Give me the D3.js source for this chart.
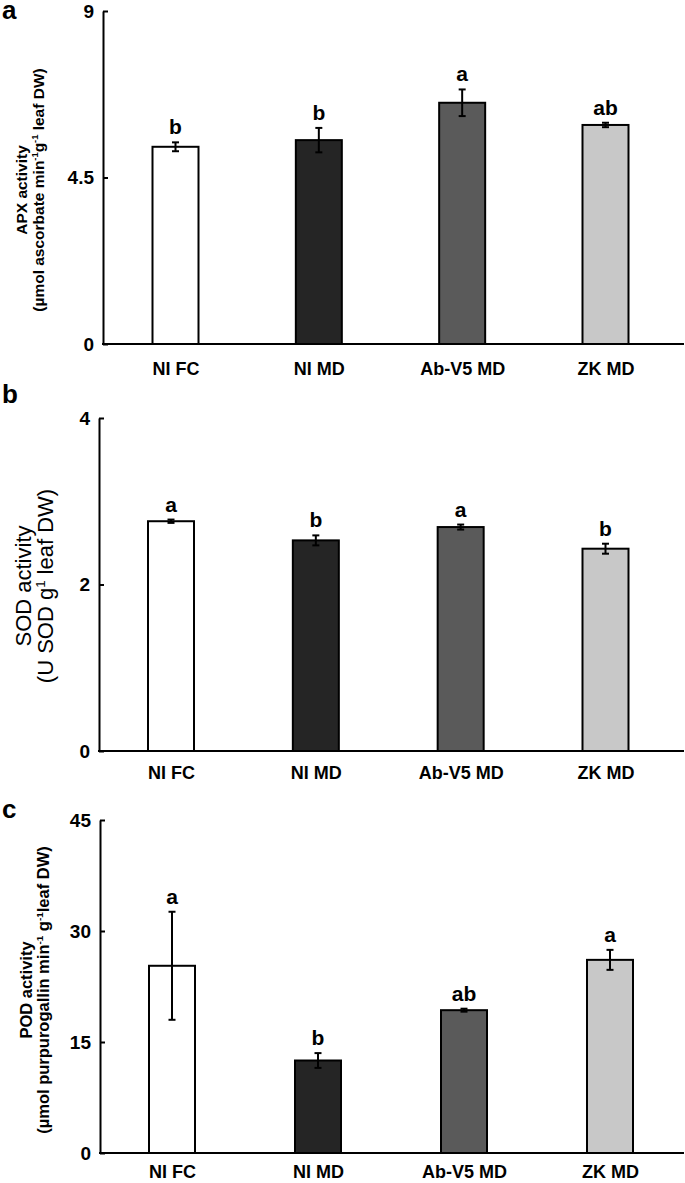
<!DOCTYPE html>
<html>
<head>
<meta charset="utf-8">
<script src="https://cdn.jsdelivr.net/npm/d3@7"></script>
<style>
  body { margin: 0; background: #fff; }
  svg { display: block; font-family: "Liberation Sans", Arial, sans-serif; }
</style>
</head>
<body>
<div id="chart"></div>
<script>
// categories shared by all three panels
const categories = ["NI FC", "NI MD", "Ab-V5 MD", "ZK MD"];
const barColors = ["#ffffff", "#252525", "#5a5a5a", "#c8c8c8"];

// a: APX
const apxMean = [5.33, 5.51, 6.52, 5.92];
const apxErr = [0.12, 0.33, 0.36, 0.06];
const apxLetters = ["b", "b", "a", "ab"];
const apxTicks = [0, 4.5, 9];

// b: SOD
const sodMean = [2.76, 2.53, 2.69, 2.43];
const sodErr = [0.02, 0.06, 0.03, 0.06];
const sodLetters = ["a", "b", "a", "b"];
const sodTicks = [0, 2, 4];

// c: POD
const podMean = [25.3, 12.5, 19.3, 26.1];
const podErr = [7.3, 1.0, 0.2, 1.35];
const podLetters = ["a", "b", "ab", "a"];
const podTicks = [0, 15, 30, 45];

const width = 685;
const height = 1183;

const svg = d3
  .select("#chart")
  .append("svg")
  .attr("width", width)
  .attr("height", height);

// panel layouts (pixels)
const panels = [
  {
    tag: "a", mean: apxMean, err: apxErr, letters: apxLetters, ticks: apxTicks,
    axisX: 103, top: 11, bottom: 344, first: 175.5, last: 605.5, tagY: 19, catPad: 18,
    bold: true, labelSize: 15.5, labelY: 190, line1X: 27, line2X: 44,
    line1: [["APX activity"]],
    line2: [["(µmol ascorbate min"], ["-1", true], ["g"], ["-1", true], [" leaf DW)"]],
  },
  {
    tag: "b", mean: sodMean, err: sodErr, letters: sodLetters, ticks: sodTicks,
    axisX: 99, top: 418, bottom: 751, first: 171, last: 605.5, tagY: 403, catPad: 15,
    bold: false, labelSize: 22, labelY: 586, line1X: 31, line2X: 53,
    line1: [["SOD activity"]],
    line2: [["(U SOD g"], ["1", true], [" leaf DW)"]],
  },
  {
    tag: "c", mean: podMean, err: podErr, letters: podLetters, ticks: podTicks,
    axisX: 100, top: 820, bottom: 1153, first: 172, last: 610, tagY: 818, catPad: 12,
    bold: true, labelSize: 16.5, labelY: 990, line1X: 32, line2X: 49,
    line1: [["POD activity"]],
    line2: [["(µmol purpurogallin min"], ["-1", true], [" g"], ["-1", true], ["leaf DW)"]],
  },
];

panels.forEach((p) => {
  const g = svg.append("g");

  const y = d3.scaleLinear().domain([0, d3.max(p.ticks)]).range([p.bottom, p.top]);
  const x = d3.scalePoint().domain(categories).range([p.first, p.last]);
  const barW = 46;

  const data = categories.map((c, i) => ({
    cat: c, mean: p.mean[i], err: p.err[i], letter: p.letters[i], color: barColors[i],
  }));

  // panel tag
  g.append("text")
    .attr("x", 2)
    .attr("y", p.tagY)
    .attr("font-size", 26)
    .attr("font-weight", "bold")
    .text(p.tag);

  // bars
  g.selectAll("rect.bar")
    .data(data)
    .join("rect")
    .attr("class", "bar")
    .attr("x", (d) => x(d.cat) - barW / 2)
    .attr("y", (d) => y(d.mean))
    .attr("width", barW)
    .attr("height", (d) => y(0) - y(d.mean))
    .attr("fill", (d) => d.color)
    .attr("stroke", "#000")
    .attr("stroke-width", 2);

  // error bars
  const eb = g.selectAll("g.err").data(data).join("g").attr("class", "err");
  eb.append("line")
    .attr("x1", (d) => x(d.cat))
    .attr("x2", (d) => x(d.cat))
    .attr("y1", (d) => y(d.mean - d.err))
    .attr("y2", (d) => y(d.mean + d.err));
  eb.append("line")
    .attr("x1", (d) => x(d.cat) - 3.5)
    .attr("x2", (d) => x(d.cat) + 3.5)
    .attr("y1", (d) => y(d.mean + d.err))
    .attr("y2", (d) => y(d.mean + d.err));
  eb.append("line")
    .attr("x1", (d) => x(d.cat) - 3.5)
    .attr("x2", (d) => x(d.cat) + 3.5)
    .attr("y1", (d) => y(d.mean - d.err))
    .attr("y2", (d) => y(d.mean - d.err));
  eb.selectAll("line").attr("stroke", "#000").attr("stroke-width", 2);

  // significance letters
  g.selectAll("text.letter")
    .data(data)
    .join("text")
    .attr("class", "letter")
    .attr("x", (d) => x(d.cat))
    .attr("y", (d) => y(d.mean + d.err) - 8)
    .attr("text-anchor", "middle")
    .attr("font-size", 21)
    .attr("font-weight", "bold")
    .text((d) => d.letter);

  // y axis, ticks pointing inward
  const yAxis = g
    .append("g")
    .attr("transform", `translate(${p.axisX},0)`)
    .call(d3.axisLeft(y).tickValues(p.ticks).tickSize(-5).tickSizeOuter(0).tickPadding(9)
      .tickFormat(d3.format("")));
  yAxis.select(".domain").attr("stroke-width", 2);
  yAxis.selectAll(".tick line").attr("stroke-width", 2);
  yAxis.selectAll(".tick text")
    .attr("font-size", 19)
    .attr("font-weight", "bold")
    .attr("font-family", "Liberation Sans, Arial, sans-serif")
    .attr("fill", "#000");

  // x axis line
  g.append("line")
    .attr("x1", p.axisX - 1)
    .attr("x2", 684)
    .attr("y1", y(0))
    .attr("y2", y(0))
    .attr("stroke", "#000")
    .attr("stroke-width", 2);

  // category labels
  const xAxis = g
    .append("g")
    .attr("transform", `translate(0,${y(0)})`)
    .call(d3.axisBottom(x).tickSize(0).tickPadding(p.catPad));
  xAxis.select(".domain").remove();
  xAxis.selectAll(".tick text")
    .attr("font-size", 18)
    .attr("font-weight", "bold")
    .attr("font-family", "Liberation Sans, Arial, sans-serif")
    .attr("fill", "#000");

  // y axis title, two rotated lines
  [[p.line1, p.line1X], [p.line2, p.line2X]].forEach(([parts, lx]) => {
    const t = g
      .append("text")
      .attr("transform", `translate(${lx},${p.labelY}) rotate(-90)`)
      .attr("text-anchor", "middle")
      .attr("font-size", p.labelSize)
      .attr("font-weight", p.bold ? "bold" : "normal");
    parts.forEach(([s, sup]) => {
      const ts = t.append("tspan").text(s);
      if (sup) ts.attr("font-size", p.labelSize * 0.6).attr("dy", -p.labelSize * 0.38);
      else if (t.selectAll("tspan").size() > 1) ts.attr("dy", p.labelSize * 0.38);
    });
  });
});
</script>
</body>
</html>
